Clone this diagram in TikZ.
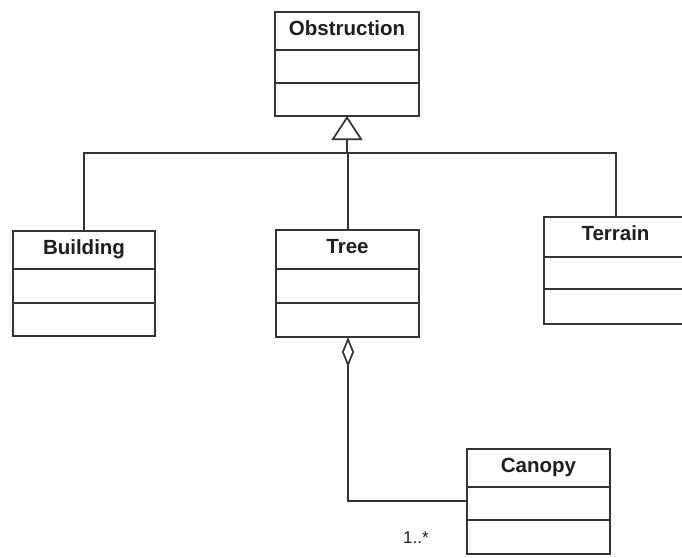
\documentclass[tikz,border=0pt]{standalone}
\usepackage{fontspec}
\setmainfont{Liberation Sans}
\usetikzlibrary{arrows.meta}

\definecolor{umlline}{HTML}{333333}
\definecolor{umltext}{HTML}{1E1E1E}

\tikzset{
  classbox/.style={draw=umlline, line width=1.6pt, fill=white, inner sep=0pt, outer sep=0pt},
  classline/.style={draw=umlline, line width=1.6pt},
  classname/.style={anchor=base, inner sep=0pt, text=umltext,
    font=\bfseries\fontsize{20.5}{24}\selectfont},
  connector/.style={draw=umlline, line width=1.7pt},
  multlabel/.style={anchor=base, inner sep=0pt, text=umltext,
    font=\fontsize{17}{20}\selectfont},
}

% class box: id, left, top, width, height, first separator, second separator, title
\newcommand\umlclass[8]{%
  \node[classbox, minimum width=#4pt, minimum height=#5pt, anchor=north west] (#1) at (#2,#3) {};
  \draw[classline] ([yshift=-#6pt]#1.north west) -- ([yshift=-#6pt]#1.north east);
  \draw[classline] ([yshift=-#7pt]#1.north west) -- ([yshift=-#7pt]#1.north east);
  \node[classname] (#1-name) at ([yshift=-23.5pt]#1.north) {#8};
}

\begin{document}
\begin{tikzpicture}[x=1pt, y=-1pt]
  \clip (0,0) rectangle (682,557);
  \fill[white] (0,0) rectangle (682,557);

  \umlclass{obstruction}{275}{12}{144}{104}{38}{71}{Obstruction}
  \umlclass{building}{13}{231}{142}{105}{38}{72}{Building}
  \umlclass{tree}{276}{230}{143}{107}{39}{73}{Tree}
  \umlclass{terrain}{544}{217}{143}{107}{40}{72}{Terrain}
  \umlclass{canopy}{467}{449}{143}{105}{38}{71}{Canopy}

  % attachment points on whole pixels
  \coordinate (junction) at (347,153);
  \coordinate (tree-top) at ([xshift=0.5pt]tree.north);
  \coordinate (tree-bottom) at ([xshift=0.5pt]tree.south);
  \coordinate (terrain-top) at ([xshift=0.5pt]terrain.north);
  \coordinate (canopy-left) at ([yshift=0.5pt]canopy.west);

  % generalisation tree
  \draw[connector] (building.north) |- (junction) -| (terrain-top);
  \draw[connector] (tree-top) -- (tree-top |- junction);
  \draw[connector, -{Triangle[open, length=24pt, width=31pt]}]
    (junction) -- (obstruction.south);

  % aggregation Tree <>-- Canopy
  \draw[connector, {Diamond[open, length=30pt, width=12pt]}-]
    (tree-bottom) |- (canopy-left);
  \node[multlabel] (mult) at (416,543) {1..*};
\end{tikzpicture}
\end{document}
